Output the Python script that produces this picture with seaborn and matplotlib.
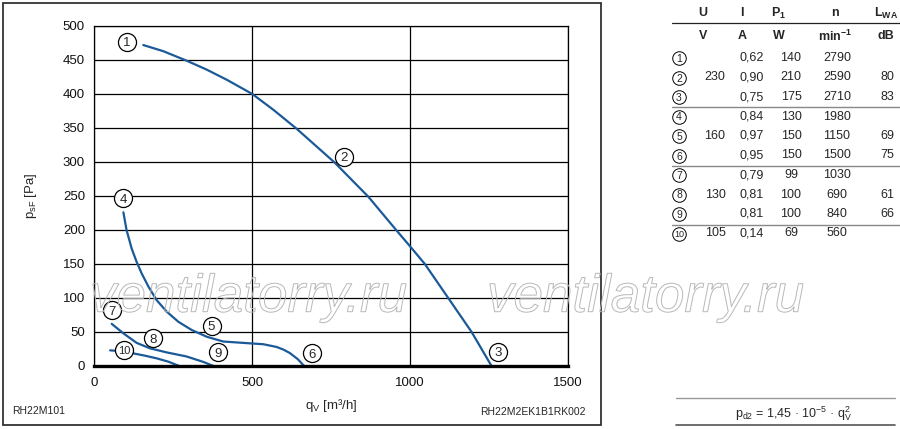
import pandas as pd
import matplotlib
matplotlib.use("Agg")
import matplotlib.pyplot as plt
from matplotlib.textpath import TextPath
from matplotlib.patches import PathPatch, Rectangle
from matplotlib.font_manager import FontProperties
from matplotlib.transforms import Affine2D
import seaborn as sns

# Curves: q_V [m3/h], p_sF [Pa]
CURVE_A_Q = [156, 219, 293, 356, 420, 501, 567, 641, 762, 868, 958, 1002, 1047, 1121, 1195, 1258]
CURVE_A_P = [472, 463, 449, 436, 421, 400, 377, 349, 299, 249, 199, 175, 150, 100, 50, 0]

CURVE_B_Q = [93, 103, 119, 135, 151, 172, 198, 230, 267, 309, 357, 409, 472, 536,
             578, 600, 620, 645, 665]
CURVE_B_P = [226, 200, 173, 153, 136, 117, 97, 80, 65, 53, 43, 36, 34, 32,
             28, 24, 19, 10, 0]

CURVE_C_Q = [56, 93, 135, 177, 230, 293, 346, 378]
CURVE_C_P = [62, 48, 34, 26, 20, 14, 6, 0]

CURVE_D_Q = [51, 66, 124, 161, 198, 235, 270]
CURVE_D_P = [23, 22.5, 18.6, 15.2, 11.3, 6.4, 0]

# Circled operating point labels
LABEL_NAMES = ["1", "2", "3", "4", "5", "6", "7", "8", "9", "10"]
LABEL_Q = [103, 791, 1278, 93, 372, 689, 56, 188, 393, 96]
LABEL_P = [477, 308, 21, 247, 59, 19, 82, 41, 20, 24]

X_TICKS = [0, 500, 1000, 1500]
Y_TICKS = [0, 50, 100, 150, 200, 250, 300, 350, 400, 450, 500]

# Table on the right
TABLE_HEAD_1 = ["U", "I", r"P$_{\mathbf{1}}$", "n", r"L$_{\mathbf{WA}}$"]
TABLE_HEAD_2 = ["V", "A", "W", r"min$^{\mathbf{-1}}$", "dB"]
COL_U = ["", "230", "", "", "160", "", "", "130", "", "105"]
COL_I = ["0,62", "0,90", "0,75", "0,84", "0,97", "0,95", "0,79", "0,81", "0,81", "0,14"]
COL_P1 = ["140", "210", "175", "130", "150", "150", "99", "100", "100", "69"]
COL_N = ["2790", "2590", "2710", "1980", "1150", "1500", "1030", "690", "840", "560"]
COL_LWA = ["", "80", "83", "", "69", "75", "", "61", "66", ""]

BLUE = "#1b5a98"
W, H = 900, 429


def build_frame() -> pd.DataFrame:
    parts = []
    for name, qs, ps in [("1-3", CURVE_A_Q, CURVE_A_P), ("4-6", CURVE_B_Q, CURVE_B_P),
                         ("7-9", CURVE_C_Q, CURVE_C_P), ("10", CURVE_D_Q, CURVE_D_P)]:
        parts.append(pd.DataFrame({"q": qs, "p": ps, "curve": name}))
    return pd.concat(parts, ignore_index=True)


def main():
    sns.set_style("white")
    plt.rcParams["font.family"] = ["Liberation Sans", "DejaVu Sans"]
    plt.rcParams["mathtext.fontset"] = "custom"
    plt.rcParams["mathtext.rm"] = "Liberation Sans"
    plt.rcParams["mathtext.it"] = "Liberation Sans:italic"
    plt.rcParams["mathtext.bf"] = "Liberation Sans:bold"

    fig = plt.figure(figsize=(W / 100, H / 100), dpi=100)
    ax = fig.add_axes([94 / W, 1 - 366 / H, 474 / W, 340 / H])

    df = build_frame()
    sns.lineplot(data=df, x="q", y="p", hue="curve", sort=False, estimator=None,
                 palette={c: BLUE for c in df["curve"].unique()}, legend=False,
                 linewidth=1.6, ax=ax)

    ax.set_xlim(0, 1500)
    ax.set_ylim(0, 500)
    ax.set_xticks(X_TICKS)
    ax.set_yticks(Y_TICKS)
    ax.set_axisbelow(True)
    ax.grid(True, color="black", linewidth=0.9)
    ax.tick_params(axis="both", length=0, labelsize=9.5, colors="#111111")
    ax.tick_params(axis="y", pad=6.5)
    ax.tick_params(axis="x", pad=8)
    for side in ["left", "right", "top"]:
        ax.spines[side].set_color("black")
        ax.spines[side].set_linewidth(0.9)
    ax.spines["bottom"].set_color("black")
    ax.spines["bottom"].set_linewidth(2.4)

    ax.set_xlabel(r"q$_{\mathrm{V}}$ [m³/h]", fontsize=9.5)
    ax.set_ylabel(r"p$_{\mathrm{sF}}$ [Pa]", fontsize=9.5)
    ax.xaxis.set_label_coords(0.5, -0.09)
    ax.yaxis.set_label_coords(-0.115, 0.5)

    # circled labels on the curves
    ax.scatter(LABEL_Q, LABEL_P, s=13 ** 2, facecolor="white", edgecolor="black",
               linewidth=0.9, zorder=5, clip_on=False)
    for name, q, p in zip(LABEL_NAMES, LABEL_Q, LABEL_P):
        ax.text(q, p, name, ha="center", va="center_baseline", zorder=6,
                fontsize=8 if name == "10" else 9.5)

    # overlay in pixel units for frame, table and notes
    ov = fig.add_axes([0, 0, 1, 1], zorder=3)
    ov.set_xlim(0, W)
    ov.set_ylim(H, 0)
    ov.axis("off")
    ov.patch.set_alpha(0)

    ov.add_patch(Rectangle((2.5, 2.5), 598, 422.5, fill=False, edgecolor="#333333", linewidth=1.3))
    ov.text(12, 411, "RH22M101", fontsize=7.5, ha="left", va="center")
    ov.text(586, 412, "RH22M2EK1B1RK002", fontsize=7.5, ha="right", va="center")

    # watermark, outlined text
    fp = FontProperties(family="Liberation Sans", style="italic")
    for x0 in [90, 487]:
        tp = TextPath((0, 0), "ventilatorry.ru", size=53, prop=fp)
        tr = Affine2D().scale(1, -1).translate(x0, 311.7) + ov.transData
        ov.add_patch(PathPatch(tp, transform=tr, facecolor="none", edgecolor="#b8b8b8", linewidth=0.7))

    # table
    head_x = [703, 742, 779, 835, 886]
    col_x = [715, 752, 791, 837, 887]
    for x, t1, t2 in zip(head_x, TABLE_HEAD_1, TABLE_HEAD_2):
        ov.text(x, 13, t1, fontsize=9, fontweight="bold", ha="center", va="center")
        ov.text(x, 36, t2, fontsize=9, fontweight="bold", ha="center", va="center")
    ov.plot([672, 900], [22.7, 22.7], color="#222222", linewidth=0.9)
    for y in [106.5, 165.5, 224.5]:
        ov.plot([672, 900], [y, y], color="#888888", linewidth=1)

    rows = list(zip(COL_U, COL_I, COL_P1, COL_N, COL_LWA))
    row_y = [58 + 19.5 * i for i in range(len(rows))]
    ov.scatter([679] * len(rows), row_y, s=95, facecolor="white", edgecolor="black", linewidth=0.7)
    for i, (vals, y) in enumerate(zip(rows, row_y)):
        ov.text(679, y, LABEL_NAMES[i], fontsize=6.5 if i == 9 else 7.5, ha="center", va="center_baseline")
        for x, v in zip(col_x, vals):
            ov.text(x, y, v, fontsize=9, ha="center", va="center")

    # dynamic pressure note
    ov.plot([676, 895], [398.3, 398.3], color="#999999", linewidth=1)
    ov.plot([676, 895], [425, 425], color="#555555", linewidth=1.2)
    ov.text(794, 414, r"p$_{\mathrm{d2}}$ = 1,45 · 10$^{-5}$ · q$_{\mathrm{V}}^{2}$",
            fontsize=9, ha="center", va="center")

    fig.savefig("out.png", dpi=100)


if __name__ == "__main__":
    main()
